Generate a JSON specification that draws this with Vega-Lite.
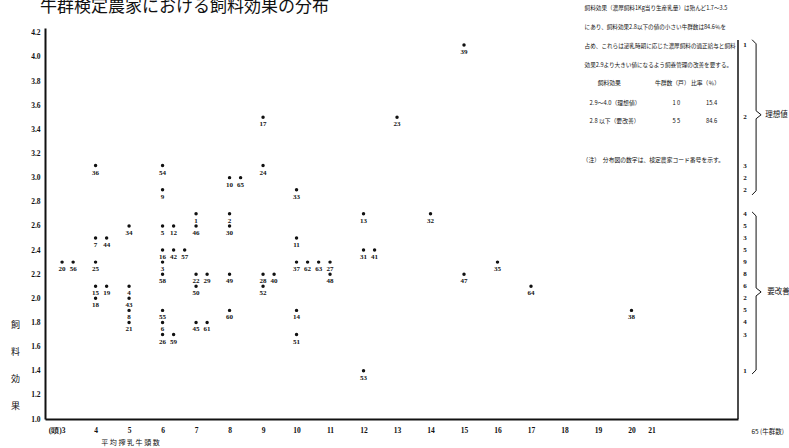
{
  "$schema": "https://vega.github.io/schema/vega-lite/v6.json",
  "width": 693,
  "height": 391,
  "autosize": {"type": "none"},
  "padding": {"left": 45, "top": 28, "right": 51, "bottom": 29},
  "background": "white",
  "config": {
    "view": {"stroke": null},
    "axis": {"labelOverlap": false, "labelBound": false, "labelFlush": false}
  },
  "datasets": {
    "herds": [
      {"code": 39, "cows": 15, "fe": 4.1},
      {"code": 17, "cows": 9, "fe": 3.5},
      {"code": 23, "cows": 13, "fe": 3.5},
      {"code": 36, "cows": 4, "fe": 3.1},
      {"code": 54, "cows": 6, "fe": 3.1},
      {"code": 24, "cows": 9, "fe": 3.1},
      {"code": 10, "cows": 8, "fe": 3.0},
      {"code": 65, "cows": 8.33, "fe": 3.0},
      {"code": 9, "cows": 6, "fe": 2.9},
      {"code": 33, "cows": 10, "fe": 2.9},
      {"code": 1, "cows": 7, "fe": 2.7},
      {"code": 2, "cows": 8, "fe": 2.7},
      {"code": 13, "cows": 12, "fe": 2.7},
      {"code": 32, "cows": 14, "fe": 2.7},
      {"code": 34, "cows": 5, "fe": 2.6},
      {"code": 5, "cows": 6, "fe": 2.6},
      {"code": 12, "cows": 6.33, "fe": 2.6},
      {"code": 46, "cows": 7, "fe": 2.6},
      {"code": 30, "cows": 8, "fe": 2.6},
      {"code": 7, "cows": 4, "fe": 2.5},
      {"code": 44, "cows": 4.33, "fe": 2.5},
      {"code": 11, "cows": 10, "fe": 2.5},
      {"code": 16, "cows": 6, "fe": 2.4},
      {"code": 42, "cows": 6.33, "fe": 2.4},
      {"code": 57, "cows": 6.66, "fe": 2.4},
      {"code": 31, "cows": 12, "fe": 2.4},
      {"code": 41, "cows": 12.33, "fe": 2.4},
      {"code": 20, "cows": 3, "fe": 2.3},
      {"code": 56, "cows": 3.33, "fe": 2.3},
      {"code": 25, "cows": 4, "fe": 2.3},
      {"code": 3, "cows": 6, "fe": 2.3},
      {"code": 37, "cows": 10, "fe": 2.3},
      {"code": 62, "cows": 10.33, "fe": 2.3},
      {"code": 63, "cows": 10.66, "fe": 2.3},
      {"code": 27, "cows": 11, "fe": 2.3},
      {"code": 35, "cows": 16, "fe": 2.3},
      {"code": 58, "cows": 6, "fe": 2.2},
      {"code": 22, "cows": 7, "fe": 2.2},
      {"code": 29, "cows": 7.33, "fe": 2.2},
      {"code": 49, "cows": 8, "fe": 2.2},
      {"code": 28, "cows": 9, "fe": 2.2},
      {"code": 40, "cows": 9.33, "fe": 2.2},
      {"code": 48, "cows": 11, "fe": 2.2},
      {"code": 47, "cows": 15, "fe": 2.2},
      {"code": 15, "cows": 4, "fe": 2.1},
      {"code": 19, "cows": 4.33, "fe": 2.1},
      {"code": 4, "cows": 5, "fe": 2.1},
      {"code": 50, "cows": 7, "fe": 2.1},
      {"code": 52, "cows": 9, "fe": 2.1},
      {"code": 64, "cows": 17, "fe": 2.1},
      {"code": 18, "cows": 4, "fe": 2.0},
      {"code": 43, "cows": 5, "fe": 2.0},
      {"code": 8, "cows": 5, "fe": 1.9},
      {"code": 55, "cows": 6, "fe": 1.9},
      {"code": 60, "cows": 8, "fe": 1.9},
      {"code": 14, "cows": 10, "fe": 1.9},
      {"code": 38, "cows": 20, "fe": 1.9},
      {"code": 21, "cows": 5, "fe": 1.8},
      {"code": 6, "cows": 6, "fe": 1.8},
      {"code": 45, "cows": 7, "fe": 1.8},
      {"code": 61, "cows": 7.33, "fe": 1.8},
      {"code": 26, "cows": 6, "fe": 1.7},
      {"code": 59, "cows": 6.33, "fe": 1.7},
      {"code": 51, "cows": 10, "fe": 1.7},
      {"code": 53, "cows": 12, "fe": 1.4}
    ],
    "braces": [
      {"group": "ideal", "ord": 1, "bx": 23.60, "by": 4.143},
      {"group": "ideal", "ord": 2, "bx": 23.72, "by": 4.109},
      {"group": "ideal", "ord": 3, "bx": 23.72, "by": 3.554},
      {"group": "ideal", "ord": 4, "bx": 23.87, "by": 3.521},
      {"group": "ideal", "ord": 5, "bx": 23.72, "by": 3.488},
      {"group": "ideal", "ord": 6, "bx": 23.72, "by": 2.891},
      {"group": "ideal", "ord": 7, "bx": 23.60, "by": 2.857},
      {"group": "improve", "ord": 1, "bx": 23.60, "by": 2.716},
      {"group": "improve", "ord": 2, "bx": 23.72, "by": 2.683},
      {"group": "improve", "ord": 3, "bx": 23.72, "by": 2.086},
      {"group": "improve", "ord": 4, "bx": 23.87, "by": 2.053},
      {"group": "improve", "ord": 5, "bx": 23.72, "by": 2.020},
      {"group": "improve", "ord": 6, "bx": 23.72, "by": 1.406},
      {"group": "improve", "ord": 7, "bx": 23.60, "by": 1.373}
    ],
    "braceLabels": [
      {"label": "理想値", "lx": 23.99, "ly": 3.52},
      {"label": "要改善", "lx": 24.05, "ly": 2.05}
    ]
  },
  "layer": [
    {
      "data": {"name": "herds"},
      "mark": {"type": "circle", "size": 12, "color": "#111", "opacity": 1},
      "encoding": {
        "x": {
          "field": "cows",
          "type": "quantitative",
          "scale": {"domain": [2.49, 23.18], "nice": false, "zero": false},
          "axis": {
            "values": [3, 4, 5, 6, 7, 8, 9, 10, 11, 12, 13, 14, 15, 16, 17, 18, 19, 20, 20.6],
            "tickCount": 100,
            "labelExpr": "datum.value > 20.5 ? '21' : (datum.value == 3 ? '(頭)3' : format(datum.value, 'd'))",
            "labelAlign": {"condition": {"test": "datum.value == 3", "value": "right"}, "value": "center"},
            "labelOffset": {"condition": {"test": "datum.value == 3", "value": 3}, "value": 0},
            "labelFont": "Liberation Serif",
            "labelFontWeight": "bold",
            "labelFontSize": 7.5,
            "labelColor": "#111",
            "labelPadding": 7,
            "labelOverlap": false,
            "ticks": false,
            "grid": false,
            "domainColor": "#111",
            "domainWidth": 2,
            "title": "平 均 搾 乳 牛 頭 数",
            "titleFont": "Noto Sans CJK JP",
            "titleFontSize": 7,
            "titleFontWeight": "normal",
            "titleColor": "#111",
            "titleAnchor": null,
            "titleAlign": "center",
            "titleBaseline": "middle",
            "titleX": 85,
            "titleY": 23
          }
        },
        "y": {
          "field": "fe",
          "type": "quantitative",
          "scale": {"domain": [1.0, 4.24], "nice": false, "zero": false},
          "axis": {
            "values": [1.0, 1.2, 1.4, 1.6, 1.8, 2.0, 2.2, 2.4, 2.6, 2.8, 3.0, 3.2, 3.4, 3.6, 3.8, 4.0, 4.2],
            "tickCount": 100,
            "format": ".1f",
            "labelFont": "Liberation Serif",
            "labelFontWeight": "bold",
            "labelFontSize": 7.5,
            "labelColor": "#111",
            "labelPadding": 5,
            "labelOverlap": false,
            "ticks": false,
            "grid": false,
            "domainColor": "#111",
            "domainWidth": 2,
            "title": ["飼", "料", "効", "果"],
            "titleAngle": 0,
            "titleFont": "Noto Sans CJK JP",
            "titleFontSize": 9,
            "titleFontWeight": "normal",
            "titleColor": "#111",
            "titleLineHeight": 27,
            "titleAnchor": null,
            "titleAlign": "center",
            "titleBaseline": "top",
            "titleX": -30,
            "titleY": 292
          }
        }
      }
    },
    {
      "data": {"name": "herds"},
      "mark": {"type": "text", "dy": 7, "baseline": "middle", "align": "center", "font": "Liberation Serif", "fontWeight": "bold", "fontSize": 7, "color": "#111"},
      "encoding": {
        "x": {"field": "cows", "type": "quantitative"},
        "y": {"field": "fe", "type": "quantitative"},
        "text": {"field": "code", "type": "nominal"}
      }
    },
    {
      "data": {"values": [{}]},
      "mark": {"type": "rule", "color": "#111", "strokeWidth": 1.5},
      "encoding": {
        "x": {"datum": 23.18, "type": "quantitative"},
        "y": {"datum": 1.0, "type": "quantitative"},
        "y2": {"datum": 4.14}
      }
    },
    {
      "data": {"name": "herds"},
      "transform": [{"aggregate": [{"op": "count", "as": "n"}], "groupby": ["fe"]}],
      "mark": {"type": "text", "baseline": "middle", "align": "center", "font": "Liberation Serif", "fontWeight": "bold", "fontSize": 7, "color": "#111"},
      "encoding": {
        "x": {"datum": 23.39, "type": "quantitative"},
        "y": {"field": "fe", "type": "quantitative"},
        "text": {"field": "n", "type": "quantitative"}
      }
    },
    {
      "data": {"name": "braces"},
      "mark": {"type": "line", "color": "#111", "strokeWidth": 1},
      "encoding": {
        "x": {"field": "bx", "type": "quantitative"},
        "y": {"field": "by", "type": "quantitative"},
        "detail": {"field": "group"},
        "order": {"field": "ord"}
      }
    },
    {
      "data": {"name": "braceLabels"},
      "mark": {"type": "text", "align": "left", "baseline": "middle", "font": "Noto Sans CJK JP", "fontSize": 7.5, "color": "#111"},
      "encoding": {
        "x": {"field": "lx", "type": "quantitative"},
        "y": {"field": "ly", "type": "quantitative"},
        "text": {"field": "label"}
      }
    },
    {
      "data": {"values": [{}]},
      "mark": {"type": "text", "align": "left", "baseline": "alphabetic", "font": "Noto Sans CJK JP", "fontSize": 17, "color": "#111", "text": "牛群検定農家における飼料効果の分布"},
      "encoding": {
        "x": {"datum": 2.344, "type": "quantitative"},
        "y": {"datum": 4.37, "type": "quantitative"}
      }
    },
    {
      "data": {"values": [{}]},
      "mark": {
        "type": "text", "align": "left", "baseline": "middle", "font": "Noto Sans CJK JP", "fontSize": 5.6, "color": "#111", "lineHeight": 19,
        "text": ["飼料効果（濃厚飼料1Kg当り生産乳量）は殆んど1.7〜3.5", "にあり、飼料効果2.8以下の値の小さい牛群数は84.6％を", "占め、これらは泌乳時期に応じた濃厚飼料の適正給与と飼料", "効果2.9より大きい値になるよう飼養管理の改善を要する。"]
      },
      "encoding": {
        "x": {"datum": 18.6, "type": "quantitative"},
        "y": {"datum": 4.408, "type": "quantitative"}
      }
    },
    {
      "data": {"values": [{}]},
      "mark": {"type": "text", "align": "left", "baseline": "middle", "font": "Noto Sans CJK JP", "fontSize": 5.8, "color": "#111", "text": "飼料効果"},
      "encoding": {
        "x": {"datum": 18.99, "type": "quantitative"},
        "y": {"datum": 3.786, "type": "quantitative"}
      }
    },
    {
      "data": {"values": [{}]},
      "mark": {"type": "text", "align": "left", "baseline": "middle", "font": "Noto Sans CJK JP", "fontSize": 5.8, "color": "#111", "text": "牛群数（戸）  比率（％）"},
      "encoding": {
        "x": {"datum": 20.7, "type": "quantitative"},
        "y": {"datum": 3.786, "type": "quantitative"}
      }
    },
    {
      "data": {"values": [{}]},
      "mark": {"type": "text", "align": "left", "baseline": "middle", "font": "Noto Sans CJK JP", "fontSize": 5.8, "color": "#111", "lineHeight": 18, "text": ["2.9〜4.0（理想値）", "2.8  以下（要改善）"]},
      "encoding": {
        "x": {"datum": 18.75, "type": "quantitative"},
        "y": {"datum": 3.62, "type": "quantitative"}
      }
    },
    {
      "data": {"values": [{}]},
      "mark": {"type": "text", "align": "center", "baseline": "middle", "font": "Noto Sans CJK JP", "fontSize": 5.8, "color": "#111", "lineHeight": 18, "text": ["1 0", "5 5"]},
      "encoding": {
        "x": {"datum": 21.34, "type": "quantitative"},
        "y": {"datum": 3.62, "type": "quantitative"}
      }
    },
    {
      "data": {"values": [{}]},
      "mark": {"type": "text", "align": "center", "baseline": "middle", "font": "Noto Sans CJK JP", "fontSize": 5.8, "color": "#111", "lineHeight": 18, "text": ["15.4", "84.6"]},
      "encoding": {
        "x": {"datum": 22.39, "type": "quantitative"},
        "y": {"datum": 3.62, "type": "quantitative"}
      }
    },
    {
      "data": {"values": [{}]},
      "mark": {"type": "text", "align": "left", "baseline": "middle", "font": "Noto Sans CJK JP", "fontSize": 5.8, "color": "#111", "text": "（注）　分布図の数字は、検定農家コード番号を示す。"},
      "encoding": {
        "x": {"datum": 18.54, "type": "quantitative"},
        "y": {"datum": 3.148, "type": "quantitative"}
      }
    },
    {
      "data": {"values": [{}]},
      "mark": {"type": "text", "align": "left", "baseline": "middle", "font": "Noto Sans CJK JP", "fontSize": 6.5, "color": "#111", "text": "65 (牛群数)"},
      "encoding": {
        "x": {"datum": 23.58, "type": "quantitative"},
        "y": {"datum": 0.892, "type": "quantitative"}
      }
    }
  ]
}
